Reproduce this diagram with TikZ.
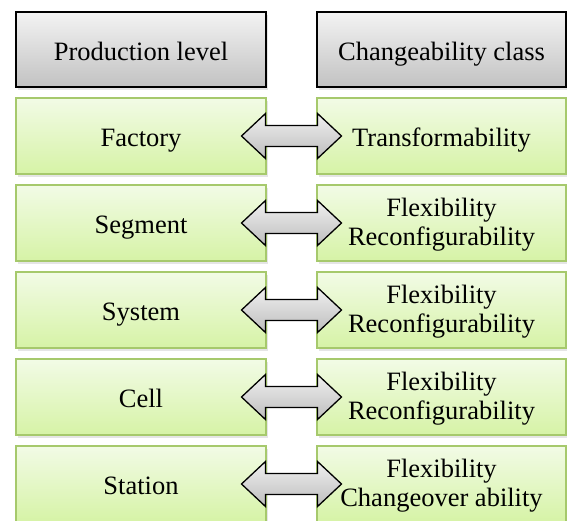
\documentclass[tikz,border=0pt]{standalone}
\usepackage{fontspec}
\setmainfont{Liberation Serif}
\usetikzlibrary{shadows,calc}

\definecolor{greenTop}{HTML}{F2FBE6}
\definecolor{greenBot}{HTML}{D6F3A6}
\definecolor{greenEdge}{HTML}{A6C96C}
\definecolor{grayTop}{HTML}{F3F3F3}
\definecolor{grayBot}{HTML}{C2C2C2}
\definecolor{arrowTop}{HTML}{F0F0F0}
\definecolor{arrowBot}{HTML}{BDBDBD}

\tikzset{
  boxbase/.style={rectangle, inner sep=0pt, align=center,
    font=\fontsize{26.5}{29.5}\selectfont,
    drop shadow={opacity=0.2, shadow xshift=1.5pt, shadow yshift=-2.5pt}},
  headbox/.style={boxbase, draw=black, line width=1.4pt,
    top color=grayTop, bottom color=grayBot, minimum height=75pt},
  levelbox/.style={boxbase, draw=greenEdge, line width=1.1pt,
    top color=greenTop, bottom color=greenBot, minimum height=76pt},
  oneline/.style={text height=24pt, text depth=3pt},
  twolines/.style={yshift=0pt},
  leftcol/.style={minimum width=250pt, oneline},
  rightcol/.style={minimum width=249pt},
  linkarrow/.style={draw=black, line width=1.3pt, line join=miter,
    top color=arrowTop, bottom color=arrowBot}
}

% double-headed block arrow centred on a coordinate
\newcommand{\blockarrow}[1]{%
  \draw[linkarrow] ($(#1)+(-50,0)$) -- ++(24,-22.5) -- ++(0,12) -- ++(52,0)
    -- ++(0,-12) -- ++(24,22.5) -- ++(-24,22.5) -- ++(0,-12) -- ++(-52,0)
    -- ++(0,12) -- cycle;}

% two-line class label, set a little lower in its box
\newcommand{\twoline}[2]{\rule{0pt}{22pt}#1\\#2}

\begin{document}
\begin{tikzpicture}[x=1pt,y=-1pt]
  \useasboundingbox (0,0) rectangle (567,520);
  \fill[white] (0,0) rectangle (567,520);

  % column headers
  \node[headbox,leftcol]  (hl) at (141,49.5)  {Production level};
  \node[headbox,rightcol,oneline] (hr) at (441.5,49.5) {Changeability class};

  % production levels and their changeability classes
  \node[levelbox,leftcol]  (l1) at (141,136) {Factory};
  \node[levelbox,rightcol,oneline] (r1) at (441.5,136) {Transformability};
  \node[levelbox,leftcol]  (l2) at (141,223) {Segment};
  \node[levelbox,rightcol] (r2) at (441.5,223) {\twoline{Flexibility}{Reconfigurability}};
  \node[levelbox,leftcol]  (l3) at (141,310) {System};
  \node[levelbox,rightcol] (r3) at (441.5,310) {\twoline{Flexibility}{Reconfigurability}};
  \node[levelbox,leftcol]  (l4) at (141,397) {Cell};
  \node[levelbox,rightcol] (r4) at (441.5,397) {\twoline{Flexibility}{Reconfigurability}};
  \node[levelbox,leftcol]  (l5) at (141,484) {Station};
  \node[levelbox,rightcol] (r5) at (441.5,484) {\twoline{Flexibility}{Changeover ability}};

  % links between each level and its class
  \foreach \i in {1,...,5} {
    \coordinate (m\i) at ($(l\i.east)!0.5!(r\i.west)$);
    \blockarrow{m\i}
  }
\end{tikzpicture}
\end{document}
